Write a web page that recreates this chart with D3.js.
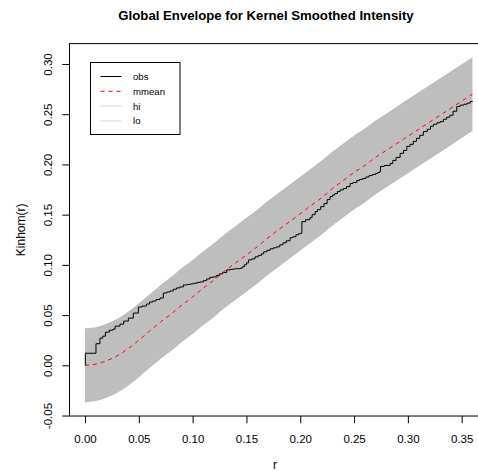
<!DOCTYPE html>
<html>
<head>
<meta charset="utf-8">
<script src="https://cdn.jsdelivr.net/npm/d3@7"></script>
<style>
  html, body { margin: 0; padding: 0; background: #fff; }
  svg { display: block; font-family: "Liberation Sans", Arial, Helvetica, sans-serif; }
</style>
</head>
<body>
<svg id="chart" width="478" height="471"></svg>
<script>
// Distance grid for the simulation envelope
const rGrid = [0, 0.01, 0.02, 0.03, 0.04, 0.05, 0.06, 0.07, 0.08, 0.09,
  0.10, 0.11, 0.12, 0.13, 0.14, 0.15, 0.16, 0.17, 0.18, 0.19,
  0.20, 0.21, 0.22, 0.23, 0.24, 0.25, 0.26, 0.27, 0.28, 0.29,
  0.30, 0.31, 0.32, 0.33, 0.34, 0.35, 0.36];

// Mean of simulated Kinhom(r)
const mmean = [0, 0.0012, 0.0045, 0.0095, 0.0165, 0.025, 0.034, 0.043, 0.051, 0.060,
  0.068, 0.077, 0.085, 0.094, 0.102, 0.110, 0.118, 0.127, 0.135, 0.143,
  0.151, 0.159, 0.167, 0.176, 0.184, 0.192, 0.199, 0.207, 0.214, 0.221,
  0.228, 0.235, 0.242, 0.249, 0.256, 0.263, 0.270];

// Upper and lower global envelope
const hi = [0.0368, 0.0380, 0.0413, 0.0463, 0.0533, 0.0618, 0.0708, 0.0798, 0.0878, 0.0968,
  0.1048, 0.1138, 0.1218, 0.1308, 0.1388, 0.1468, 0.1548, 0.1638, 0.1718, 0.1798,
  0.1878, 0.1958, 0.2038, 0.2128, 0.2208, 0.2288, 0.2358, 0.2438, 0.2508, 0.2578,
  0.2648, 0.2718, 0.2788, 0.2858, 0.2928, 0.2998, 0.3066];
const lo = [-0.0368, -0.0356, -0.0323, -0.0273, -0.0203, -0.0118, -0.0028, 0.0062, 0.0142, 0.0232,
  0.0312, 0.0402, 0.0482, 0.0572, 0.0652, 0.0732, 0.0812, 0.0902, 0.0982, 0.1062,
  0.1142, 0.1222, 0.1302, 0.1392, 0.1472, 0.1552, 0.1622, 0.1702, 0.1772, 0.1842,
  0.1912, 0.1982, 0.2052, 0.2122, 0.2192, 0.2262, 0.2332];

// Observed Kinhom(r): step function, jump positions and levels
const obsR = [0, 0.0003, 0.0102, 0.0139, 0.0165, 0.019, 0.0226, 0.026, 0.028, 0.0325,
  0.036, 0.0403, 0.0449, 0.0496, 0.053, 0.057, 0.060, 0.063, 0.066, 0.0697,
  0.0728, 0.076, 0.079, 0.082, 0.085, 0.088, 0.0914, 0.095, 0.098, 0.1007,
  0.104, 0.107, 0.110, 0.113, 0.116, 0.119, 0.122, 0.125, 0.128, 0.1317,
  0.135, 0.138, 0.141, 0.144, 0.146, 0.148, 0.150, 0.152, 0.155, 0.158,
  0.161, 0.164, 0.166, 0.169, 0.172, 0.175, 0.178, 0.181, 0.184, 0.187,
  0.1905, 0.193, 0.196, 0.1985, 0.2005, 0.2015, 0.205, 0.209, 0.211, 0.2138,
  0.216, 0.219, 0.222, 0.225, 0.2277, 0.230, 0.232, 0.2345, 0.237, 0.240,
  0.243, 0.2463, 0.249, 0.2525, 0.255, 0.258, 0.261, 0.264, 0.267, 0.270,
  0.272, 0.274, 0.2745, 0.278, 0.2835, 0.286, 0.289, 0.2928, 0.296, 0.299,
  0.302, 0.305, 0.308, 0.311, 0.3144, 0.318, 0.321, 0.3237, 0.327, 0.330,
  0.333, 0.336, 0.339, 0.342, 0.3454, 0.3485, 0.352, 0.355, 0.3578, 0.360];
const obs = [0, 0.012, 0.0215, 0.027, 0.029, 0.033, 0.035, 0.036, 0.039, 0.041,
  0.044, 0.047, 0.052, 0.058, 0.059, 0.061, 0.063, 0.064, 0.0655, 0.067,
  0.072, 0.073, 0.074, 0.0757, 0.077, 0.078, 0.080, 0.0805, 0.081, 0.0817,
  0.0825, 0.083, 0.0843, 0.086, 0.0876, 0.088, 0.0895, 0.091, 0.0925, 0.095,
  0.0955, 0.096, 0.0962, 0.0966, 0.098, 0.100, 0.102, 0.105, 0.106, 0.108,
  0.1095, 0.111, 0.113, 0.1145, 0.116, 0.117, 0.118, 0.120, 0.122, 0.124,
  0.127, 0.128, 0.130, 0.131, 0.1315, 0.143, 0.145, 0.147, 0.150, 0.153,
  0.155, 0.158, 0.161, 0.165, 0.168, 0.1695, 0.171, 0.173, 0.1746, 0.176,
  0.178, 0.181, 0.182, 0.184, 0.185, 0.186, 0.1875, 0.189, 0.190, 0.191,
  0.192, 0.193, 0.198, 0.199, 0.201, 0.204, 0.207, 0.211, 0.214, 0.218,
  0.220, 0.223, 0.226, 0.229, 0.2327, 0.235, 0.238, 0.240, 0.2415, 0.2426,
  0.245, 0.247, 0.249, 0.253, 0.2576, 0.259, 0.260, 0.261, 0.2626, 0.263];

const xTicks = [0, 0.05, 0.10, 0.15, 0.20, 0.25, 0.30, 0.35];
const yTicks = [-0.05, 0, 0.05, 0.10, 0.15, 0.20, 0.25, 0.30];

const legendLabels = ["obs", "mmean", "hi", "lo"];
const legendColors = ["#000000", "#ff0000", "#d3d3d3", "#d3d3d3"];
const legendDash = [null, "4,4", null, null];

const titleText = "Global Envelope for Kernel Smoothed Intensity";
const xLabel = "r";
const yLabel = "Kinhom(r)";

// ---- layout ----
const svg = d3.select("#chart");
const x = d3.scaleLinear().domain([0, 0.35]).range([85, 461.7]);
const y = d3.scaleLinear().domain([0, 0.30]).range([365.3, 64]);

const box = { x0: x(-0.0144), x1: x(0.3744), y0: y(0.3203), y1: y(-0.0505) };

// R-style tick labels: two decimals, plain hyphen for negatives
const fmt = v => d3.format(".2f")(v).replace("\u2212", "-");

svg.append("defs").append("clipPath").attr("id", "plotClip")
  .append("rect")
  .attr("x", box.x0).attr("y", box.y0)
  .attr("width", box.x1 - box.x0).attr("height", box.y1 - box.y0);

const plot = svg.append("g").attr("clip-path", "url(#plotClip)");

// envelope band
const band = rGrid.map((r, i) => ({ r, hi: hi[i], lo: lo[i] }));
plot.append("path")
  .datum(band)
  .attr("fill", "#bebebe")
  .attr("stroke", "none")
  .attr("d", d3.area().x(d => x(d.r)).y0(d => y(d.lo)).y1(d => y(d.hi)).curve(d3.curveMonotoneX));

// observed step curve
const obsData = obsR.map((r, i) => ({ r, v: obs[i] }));
plot.append("path")
  .datum(obsData)
  .attr("fill", "none")
  .attr("stroke", "#000")
  .attr("stroke-width", 1)
  .attr("d", d3.line().x(d => x(d.r)).y(d => y(d.v)).curve(d3.curveStepAfter));

// simulated mean, dashed red
const meanData = rGrid.map((r, i) => ({ r, v: mmean[i] }));
plot.append("path")
  .datum(meanData)
  .attr("fill", "none")
  .attr("stroke", "#ff0000")
  .attr("stroke-width", 1)
  .attr("stroke-dasharray", "4,4")
  .attr("d", d3.line().x(d => x(d.r)).y(d => y(d.v)).curve(d3.curveMonotoneX));

// plot frame
svg.append("rect")
  .attr("x", box.x0).attr("y", box.y0)
  .attr("width", box.x1 - box.x0).attr("height", box.y1 - box.y0)
  .attr("fill", "none").attr("stroke", "#000").attr("stroke-width", 1);

// x axis
const xAxis = d3.axisBottom(x).tickValues(xTicks).tickFormat(fmt)
  .tickSize(7.2).tickPadding(0);
const gx = svg.append("g").attr("transform", `translate(0,${box.y1})`).call(xAxis);
gx.select(".domain").remove();
gx.selectAll("text")
  .attr("y", 27.3).attr("dy", null)
  .attr("font-size", 11.5).attr("fill", "#000")
  .attr("font-family", "Liberation Sans, Arial, sans-serif");

// y axis with rotated labels
const yAxis = d3.axisLeft(y).tickValues(yTicks).tickFormat(fmt).tickSize(7.2);
const gy = svg.append("g").attr("transform", `translate(${box.x0},0)`).call(yAxis);
gy.select(".domain").remove();
gy.selectAll("text")
  .attr("x", null).attr("dy", null)
  .attr("text-anchor", "middle")
  .attr("font-size", 11.5).attr("fill", "#000")
  .attr("font-family", "Liberation Sans, Arial, sans-serif")
  .attr("transform", "translate(-17.2,0) rotate(-90)");

// titles
svg.append("text")
  .attr("x", 266).attr("y", 19.5)
  .attr("text-anchor", "middle")
  .attr("font-size", 13.2).attr("font-weight", "bold")
  .text(titleText);

svg.append("text")
  .attr("x", 275).attr("y", 468.5)
  .attr("text-anchor", "middle")
  .attr("font-size", 12)
  .text(xLabel);

svg.append("text")
  .attr("transform", "translate(24.5,229.8) rotate(-90)")
  .attr("text-anchor", "middle")
  .attr("font-size", 12)
  .text(yLabel);

// legend
const lg = svg.append("g");
lg.append("rect")
  .attr("x", 90.5).attr("y", 62.5).attr("width", 89.5).attr("height", 72)
  .attr("fill", "#fff").attr("stroke", "#000").attr("stroke-width", 1);
const rowY = d3.scalePoint().domain(legendLabels).range([76.5, 121]);
legendLabels.forEach((lab, i) => {
  const yy = rowY(lab);
  const ln = lg.append("line")
    .attr("x1", 100.5).attr("x2", 121.5).attr("y1", yy).attr("y2", yy)
    .attr("stroke", legendColors[i]).attr("stroke-width", 1);
  if (legendDash[i]) ln.attr("stroke-dasharray", legendDash[i]);
  lg.append("text")
    .attr("x", 133).attr("y", yy).attr("dy", "0.35em")
    .attr("font-size", 9.6)
    .text(lab);
});
</script>
</body>
</html>
